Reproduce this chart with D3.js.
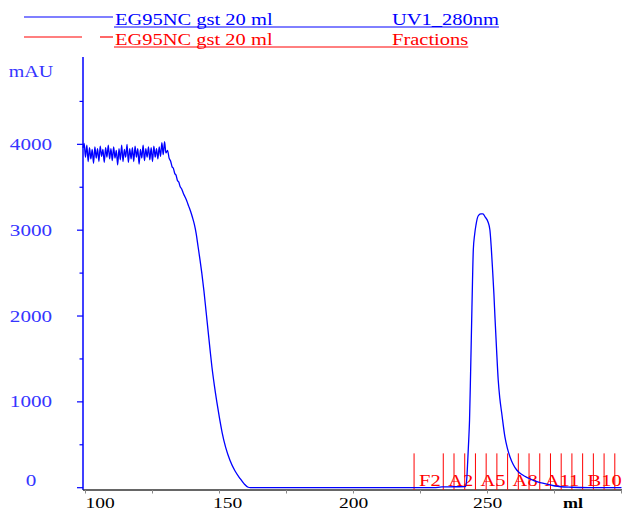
<!DOCTYPE html>
<html>
<head>
<meta charset="utf-8">
<script src="https://cdn.jsdelivr.net/npm/d3@7"></script>
<style>
body { margin: 0; background: #fff; }
svg text { font-family: "Liberation Serif", "Times New Roman", serif; }
</style>
</head>
<body>
<svg id="chart" width="622" height="512"></svg>
<script>
// UV trace (ml, mAU)
var plateau = [
	[99.1, 3960], [99.5, 4010], [100, 3850], [100.5, 3990], [101, 3800], [101.5, 3960], [102, 3830],
	[102.5, 3940], [103, 3780], [103.5, 3970], [104, 3840], [104.5, 3950], [105, 3800], [105.5, 3980],
	[106, 3860], [106.5, 3940], [107, 3790], [107.5, 3960], [108, 3850], [108.5, 3990], [109, 3830],
	[109.5, 3950], [110, 3810], [110.5, 3970], [111, 3840], [111.5, 3930], [112, 3760], [112.5, 3950],
	[113, 3820], [113.5, 3990], [114, 3800], [114.5, 3940], [115, 3850], [115.5, 4000], [116, 3790],
	[116.5, 3950], [117, 3830], [117.5, 3960], [118, 3800], [118.5, 3980], [119, 3850], [119.5, 3950],
	[120, 3770], [120.5, 3940], [121, 3840], [121.5, 3990], [122, 3810], [122.5, 3950], [123, 3850],
	[123.5, 3970], [124, 3820], [124.5, 3960], [125, 3800], [125.5, 3980], [126, 3850], [126.5, 3950],
	[127, 3830], [127.5, 3970], [128, 3860], [128.5, 4020], [129, 3880], [129.5, 4030], [130, 3900]
];
var descent = [
	[130.6, 3930], [131.2, 3840], [131.8, 3800], [132.3, 3740], [132.8, 3720], [133.3, 3660], [133.8, 3640],
	[134.3, 3580], [134.8, 3560], [135.3, 3510], [135.9, 3480], [136.5, 3430], [137.1, 3390], [137.8, 3340],
	[138.5, 3280], [139.2, 3220], [139.9, 3150], [140.6, 3070], [141.3, 2960], [142, 2810], [142.7, 2660],
	[143.4, 2500], [144.2, 2290], [145, 2050], [145.8, 1810], [146.5, 1600], [147.2, 1400], [148, 1210],
	[149, 1000], [150, 810], [151, 640], [152.3, 470], [153.9, 320], [155.7, 200], [157.6, 110],
	[159.2, 45], [160.7, 5], [161.5, 0]
];
var peak = [
	[200, 0], [230, 0], [233, 10], [241.8, 12], [242.3, 120], [242.6, 300], [243, 560], [243.3, 789],
	[243.7, 1350], [244.1, 1953], [244.4, 2400], [244.7, 2768], [245.2, 2950], [245.7, 3060], [246.5, 3165],
	[247.5, 3190], [248.3, 3190], [249.1, 3155], [250.2, 3095], [250.9, 3002], [251.4, 2800], [251.9, 2536],
	[252.4, 2250], [252.8, 1977], [253.4, 1600], [254, 1254], [254.6, 1040], [255.3, 870], [256.5, 591],
	[257.4, 460], [258.4, 358], [259.6, 270], [260.9, 206], [263, 150], [265.2, 113], [267.5, 80],
	[270.2, 55], [275.2, 20], [281.4, 5], [287.5, 0], [300, 0]
];

// fractions (start ml)
var fracNames = ["F2", "A2", "A3", "A4", "A5", "A6", "A7", "A8", "A9", "A10", "A11", "A12", "B12", "B11", "B10", "B9", "B8", "B7"];
var fracStart = [222.6, 233.5, 237.5, 241.5, 245.5, 249.5, 253.5, 257.5, 261.5, 265.5, 269.5, 273.5, 277.5, 281.5, 285.5, 289.5, 293.5, 297.5];
var fracLabelled = ["F2", "A2", "A5", "A8", "A11", "B10"];

var yMajor = [0, 1000, 2000, 3000, 4000];
var yMinor = [500, 1500, 2500, 3500, 4500];
var xTicks = [100, 125, 150, 175, 200, 225, 250, 275, 300];
var xLabels = [100, 150, 200, 250];

var legendRows = [
	{ name: "EG95NC gst 20 ml", curve: "UV1_280nm", color: "#0000ff" },
	{ name: "EG95NC gst 20 ml", curve: "Fractions", color: "#ff0000" }
];

const STRETCH = 1.28;
const svg = d3.select('#chart');

const x = d3.scaleLinear().domain([100, 300]).range([85.5, 621.5]);
const y = d3.scaleLinear().domain([0, 5000]).range([487.7, 58.5]);
const axisX = 83;
const axisY = y(0) + 2.3;

function stretch(sel, k) {
	sel.each(function() {
		const w = this.getComputedTextLength();
		d3.select(this).attr('textLength', w * k).attr('lengthAdjust', 'spacingAndGlyphs');
	});
}

// legend
legendRows.forEach((r, i) => {
	const ly = 17 + i * 20;
	const g = svg.append('g');
	if (i == 0) {
		g.append('line').attr('x1', 24).attr('x2', 113).attr('y1', ly).attr('y2', ly)
			.attr('stroke', r.color).attr('stroke-width', 1.2);
	} else {
		g.append('line').attr('x1', 24).attr('x2', 82).attr('y1', ly).attr('y2', ly)
			.attr('stroke', r.color).attr('stroke-width', 1.2);
		g.append('line').attr('x1', 100).attr('x2', 113).attr('y1', ly).attr('y2', ly)
			.attr('stroke', r.color).attr('stroke-width', 1.2);
	}
	const t1 = g.append('text').attr('x', 115).attr('y', ly + 8).attr('fill', r.color)
		.style('font-size', '16px').text(r.name);
	stretch(t1, STRETCH);
	const t2 = g.append('text').attr('x', 392).attr('y', ly + 8).attr('fill', r.color)
		.style('font-size', '16px').text(r.curve);
	stretch(t2, STRETCH);
	const endX = 392 + t2.node().getComputedTextLength();
	g.append('line').attr('x1', 114).attr('x2', endX).attr('y1', ly + 10).attr('y2', ly + 10)
		.attr('stroke', r.color).attr('stroke-width', 1);
});

// y axis
const gy = svg.append('g');
gy.append('line').attr('x1', axisX).attr('x2', axisX).attr('y1', 57).attr('y2', axisY)
	.attr('stroke', '#0000ff').attr('stroke-width', 1.5);
gy.selectAll('.major').data(yMajor).enter().append('line')
	.attr('x1', axisX - 6).attr('x2', axisX).attr('y1', d => y(d)).attr('y2', d => y(d))
	.attr('stroke', '#0000ff').attr('stroke-width', 1.2);
gy.selectAll('.minor').data(yMinor).enter().append('line')
	.attr('x1', axisX - 3.5).attr('x2', axisX).attr('y1', d => y(d)).attr('y2', d => y(d))
	.attr('stroke', '#0000ff').attr('stroke-width', 1.2);
const yl = gy.selectAll('.lbl').data(yMajor).enter().append('text')
	.attr('x', 31).attr('y', d => d == 0 ? y(d) - 1.5 : y(d) + 5.5)
	.attr('text-anchor', 'middle').attr('fill', '#3535ff')
	.style('font-size', '16px').text(d => d);
stretch(yl, 1.32);
const mau = gy.append('text').attr('x', 31).attr('y', 77).attr('text-anchor', 'middle')
	.attr('fill', '#3535ff').style('font-size', '16px').text('mAU');
stretch(mau, 1.25);

// x axis
const gx = svg.append('g');
gx.append('line').attr('x1', axisX).attr('x2', 622).attr('y1', axisY).attr('y2', axisY)
	.attr('stroke', '#333').attr('stroke-width', 1.3);
gx.selectAll('.tick').data(xTicks).enter().append('line')
	.attr('x1', d => x(d)).attr('x2', d => x(d)).attr('y1', axisY).attr('y2', axisY + 3.5)
	.attr('stroke', '#888').attr('stroke-width', 1);
const xl = gx.selectAll('.lbl').data(xLabels).enter().append('text')
	.attr('x', d => d == 150 ? x(d) + 8 : x(d))
	.attr('y', 508)
	.attr('text-anchor', d => d == 100 ? 'start' : 'middle')
	.attr('fill', '#000').style('font-size', '15px').text(d => d);
stretch(xl, 1.3);
const ml = gx.append('text').attr('x', 563).attr('y', 508).attr('fill', '#000')
	.style('font-size', '15px').style('font-weight', 'bold').text('ml');
stretch(ml, 1.2);

// fractions
const gf = svg.append('g');
gf.selectAll('line').data(fracStart).enter().append('line')
	.attr('x1', d => x(d)).attr('x2', d => x(d)).attr('y1', y(400)).attr('y2', axisY)
	.attr('stroke', '#ff0000').attr('stroke-width', 1);
const fl = gf.selectAll('text').data(fracNames.filter(n => fracLabelled.indexOf(n) >= 0)).enter().append('text')
	.attr('x', n => x(fracStart[fracNames.indexOf(n)]) + 5)
	.attr('y', 486).attr('fill', '#ff0000').style('font-size', '16px').text(n => n);
stretch(fl, 1.28);

// UV curve
const uv = plateau.concat(descent, peak);
const line = d3.line().x(d => x(d[0])).y(d => y(d[1])).curve(d3.curveMonotoneX);
svg.append('path').datum(uv).attr('d', line)
	.attr('fill', 'none').attr('stroke', '#0000ff').attr('stroke-width', 1.3)
	.attr('stroke-linejoin', 'round');
</script>
</body>
</html>
